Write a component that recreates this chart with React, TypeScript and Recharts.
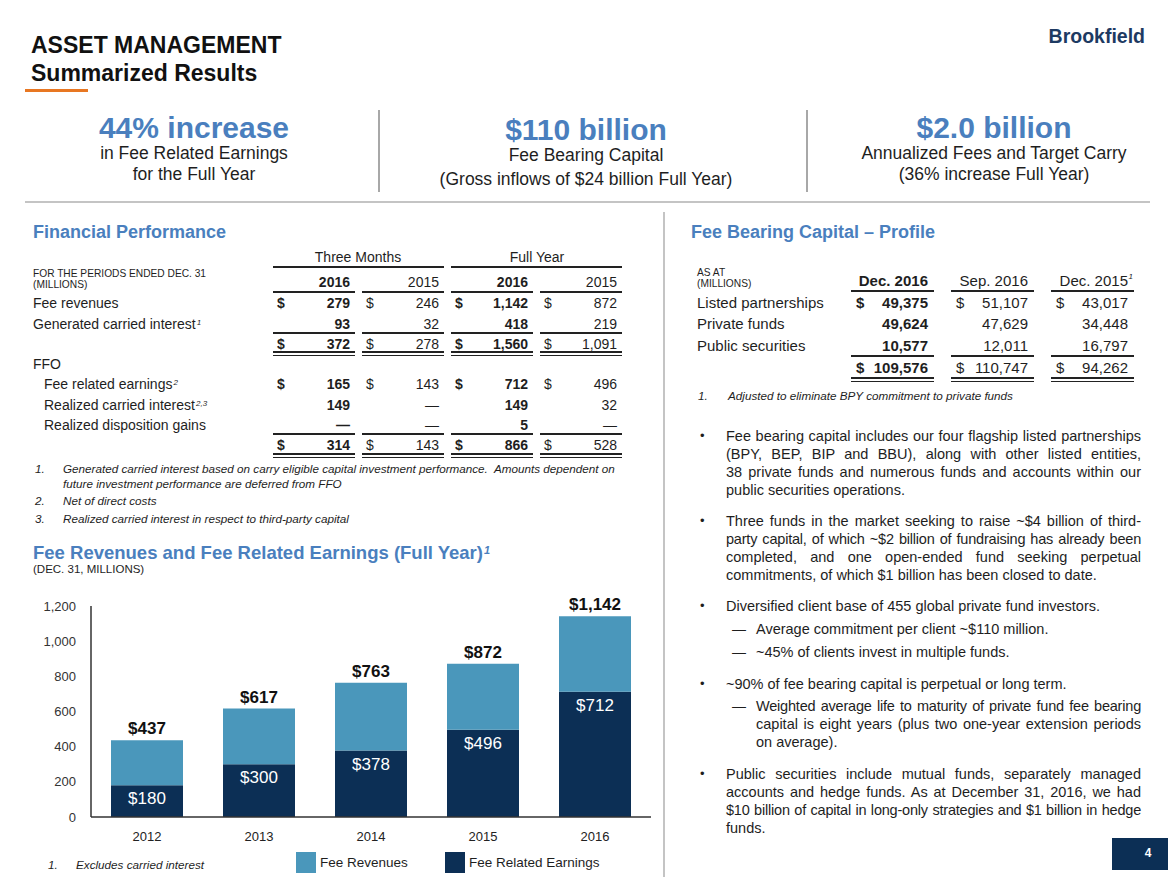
import React from 'react';
import { BarChart, Bar, XAxis, YAxis, LabelList } from 'recharts';

// chart values (DEC. 31, MILLIONS)
const years = ['2012', '2013', '2014', '2015', '2016'];
const feeRevenues = [437, 617, 763, 872, 1142];
const feeRelatedEarnings = [180, 300, 378, 496, 712];
const yTicks = [0, 200, 400, 600, 800, 1000, 1200];

// financial performance table
const fpHeaders = ['2016', '2015', '2016', '2015'];
const fpFeeRevenues = ['279', '246', '1,142', '872'];
const fpCarried = ['93', '32', '418', '219'];
const fpTotal1 = ['372', '278', '1,560', '1,091'];
const fpFre = ['165', '143', '712', '496'];
const fpRealizedCarry = ['149', '—', '149', '32'];
const fpDisposition = ['—', '—', '5', '—'];
const fpTotal2 = ['314', '143', '866', '528'];

// fee bearing capital table
const fbcHeaders = ['Dec. 2016', 'Sep. 2016', 'Dec. 2015'];
const fbcListed = ['49,375', '51,107', '43,017'];
const fbcPrivate = ['49,624', '47,629', '34,448'];
const fbcPublic = ['10,577', '12,011', '16,797'];
const fbcTotal = ['109,576', '110,747', '94,262'];

const LIGHT = '#4a97bb';
const NAVY = '#0c2f55';
const BLUE = '#4a7fbe';
const INK = '#1e1e1e';

const data = years.map((year, i) => ({
  year,
  fre: feeRelatedEarnings[i],
  rest: feeRevenues[i] - feeRelatedEarnings[i],
  revenue: feeRevenues[i],
}));

const money = (v: number) => `$${v.toLocaleString('en-US')}`;

type TxtProps = {
  x: number;
  y: number;
  w?: number;
  align?: 'left' | 'right' | 'center';
  size?: number;
  bold?: boolean;
  italic?: boolean;
  color?: string;
  children: React.ReactNode;
};

function Txt({ x, y, w = 500, align = 'left', size = 14, bold, italic, color = INK, children }: TxtProps) {
  const h = Math.round(size * 1.4);
  const left = align === 'left' ? x : align === 'right' ? x - w : x - w / 2;
  return (
    <div
      style={{
        position: 'absolute',
        left,
        top: y - h / 2,
        width: w,
        height: h,
        lineHeight: `${h}px`,
        fontSize: size,
        fontWeight: bold ? 700 : 400,
        fontStyle: italic ? 'italic' : 'normal',
        color,
        textAlign: align,
        whiteSpace: 'nowrap',
      }}
    >
      {children}
    </div>
  );
}

function HLine({ x1, x2, y, th = 1, color = '#222' }: { x1: number; x2: number; y: number; th?: number; color?: string }) {
  return <div style={{ position: 'absolute', left: x1, top: y - th / 2, width: x2 - x1, height: th, background: color }} />;
}

function VLine({ x, y1, y2, th = 2, color = '#b0b0b0' }: { x: number; y1: number; y2: number; th?: number; color?: string }) {
  return <div style={{ position: 'absolute', left: x - th / 2, top: y1, width: th, height: y2 - y1, background: color }} />;
}

const Sup = ({ children, size = 8 }: { children: React.ReactNode; size?: number }) => (
  <span
    style={{
      fontSize: size,
      position: 'relative',
      top: '-0.45em',
      lineHeight: 0,
      fontStyle: 'italic',
      marginLeft: 1,
    }}
  >
    {children}
  </span>
);

// left table columns
const fpCols = [
  [273, 355],
  [362, 444],
  [451, 533],
  [540, 622],
];
const fbcCols = [
  [851, 934],
  [951, 1034],
  [1051, 1134],
];

function FpRow({ y, vals, dollar }: { y: number; vals: string[]; dollar?: boolean }) {
  return (
    <>
      {vals.map((v, i) => (
        <React.Fragment key={i}>
          {dollar && (
            <Txt x={fpCols[i][0] + 4} y={y} w={20} bold={i % 2 === 0}>
              $
            </Txt>
          )}
          <Txt x={fpCols[i][1] - 5} y={y} w={80} align="right" bold={i % 2 === 0}>
            {v}
          </Txt>
        </React.Fragment>
      ))}
    </>
  );
}

function FpLines({ y, th = 1.5 }: { y: number; th?: number }) {
  return (
    <>
      {fpCols.map(([a, b], i) => (
        <HLine key={i} x1={a} x2={b} y={y} th={th} />
      ))}
    </>
  );
}

function FbcRow({ y, vals, dollar }: { y: number; vals: string[]; dollar?: boolean }) {
  return (
    <>
      {vals.map((v, i) => (
        <React.Fragment key={i}>
          {dollar && (
            <Txt x={fbcCols[i][0] + 5} y={y} w={20} size={15} bold={i === 0}>
              $
            </Txt>
          )}
          <Txt x={fbcCols[i][1] - 6} y={y} w={90} align="right" size={15} bold={i === 0}>
            {v}
          </Txt>
        </React.Fragment>
      ))}
    </>
  );
}

function FbcLines({ y, th = 1.5 }: { y: number; th?: number }) {
  return (
    <>
      {fbcCols.map(([a, b], i) => (
        <HLine key={i} x1={a} x2={b} y={y} th={th} />
      ))}
    </>
  );
}

// justified bullet lines; a leading '!' marks a line that needs tighter letters
function Para({ x, y, w, lines, step = 18 }: { x: number; y: number; w: number; lines: string[]; step?: number }) {
  return (
    <>
      {lines.map((raw, i) => {
        const tight = raw.startsWith('!');
        const t = tight ? raw.slice(1) : raw;
        return (
          <div
            key={i}
            style={{
              position: 'absolute',
              left: x,
              top: y + i * step - 10,
              width: w,
              height: 20,
              lineHeight: '20px',
              fontSize: 14.5,
              letterSpacing: tight ? -0.2 : 0,
              color: INK,
              whiteSpace: 'nowrap',
              textAlign: 'justify',
              textAlignLast: i < lines.length - 1 ? 'justify' : 'left',
            }}
          >
            {t}
          </div>
        );
      })}
    </>
  );
}

const Bullet = ({ y }: { y: number }) => (
  <Txt x={700} y={y} w={10} size={13}>
    •
  </Txt>
);
const Dash = ({ y }: { y: number }) => (
  <Txt x={732} y={y} w={20} size={14}>
    —
  </Txt>
);

const NOTE = 11.7;

export default function App() {
  return (
    <div
      style={{
        position: 'absolute',
        left: 0,
        top: 0,
        width: 1168,
        height: 877,
        background: '#fff',
        overflow: 'hidden',
        fontFamily: '"Liberation Sans", Arial, sans-serif',
        color: INK,
      }}
    >
      {/* header */}
      <Txt x={31} y={45} size={23} bold color="#111">
        ASSET MANAGEMENT
      </Txt>
      <Txt x={31} y={73} size={23} bold color="#111">
        Summarized Results
      </Txt>
      <HLine x1={25} x2={88} y={90} th={3} color="#e87722" />
      <Txt x={1145} y={36} w={200} align="right" size={19.5} bold color="#1d3a62">
        Brookfield
      </Txt>

      {/* KPIs */}
      <Txt x={194} y={128} w={360} align="center" size={30} bold color={BLUE}>
        44% increase
      </Txt>
      <Txt x={194} y={153} w={360} align="center" size={17.5}>
        in Fee Related Earnings
      </Txt>
      <Txt x={194} y={174} w={360} align="center" size={17.5}>
        for the Full Year
      </Txt>
      <VLine x={379} y1={110} y2={192} color="#a8a8a8" />
      <Txt x={586} y={130} w={400} align="center" size={30} bold color={BLUE}>
        $110 billion
      </Txt>
      <Txt x={586} y={155} w={400} align="center" size={17.5}>
        Fee Bearing Capital
      </Txt>
      <Txt x={586} y={179} w={400} align="center" size={17.5}>
        (Gross inflows of $24 billion Full Year)
      </Txt>
      <VLine x={807} y1={110} y2={192} color="#a8a8a8" />
      <Txt x={994} y={128} w={360} align="center" size={30} bold color={BLUE}>
        $2.0 billion
      </Txt>
      <Txt x={994} y={153} w={360} align="center" size={17.5}>
        Annualized Fees and Target Carry
      </Txt>
      <Txt x={994} y={174} w={360} align="center" size={17.5}>
        (36% increase Full Year)
      </Txt>

      <HLine x1={25} x2={1150} y={202} th={2} color="#c4c4c4" />
      <VLine x={664} y1={212} y2={877} th={2} color="#c4c4c4" />

      {/* Financial Performance */}
      <Txt x={33} y={232} size={18} bold color={BLUE}>
        Financial Performance
      </Txt>
      <Txt x={358} y={257} w={170} align="center" size={14}>
        Three Months
      </Txt>
      <HLine x1={273} x2={444} y={267} th={2} />
      <Txt x={537} y={257} w={170} align="center" size={14}>
        Full Year
      </Txt>
      <HLine x1={451} x2={622} y={267} th={2} />
      <Txt x={33} y={274} size={10.2}>
        FOR THE PERIODS ENDED DEC. 31
      </Txt>
      <Txt x={33} y={285} size={10.2}>
        (MILLIONS)
      </Txt>
      {fpHeaders.map((h, i) => (
        <Txt key={i} x={fpCols[i][1] - 5} y={282} w={80} align="right" bold={i % 2 === 0}>
          {h}
        </Txt>
      ))}
      <FpLines y={292} th={2} />

      <Txt x={33} y={303}>Fee revenues</Txt>
      <FpRow y={303} vals={fpFeeRevenues} dollar />
      <Txt x={33} y={324}>
        Generated carried interest<Sup>1</Sup>
      </Txt>
      <FpRow y={324} vals={fpCarried} />
      <FpLines y={333} />
      <FpRow y={344} vals={fpTotal1} dollar />
      <FpLines y={352} />
      <FpLines y={355.5} />

      <Txt x={33} y={364}>FFO</Txt>
      <Txt x={44} y={384}>
        Fee related earnings<Sup>2</Sup>
      </Txt>
      <FpRow y={384} vals={fpFre} dollar />
      <Txt x={44} y={405}>
        Realized carried interest<Sup>2,3</Sup>
      </Txt>
      <FpRow y={405} vals={fpRealizedCarry} />
      <Txt x={44} y={425}>Realized disposition gains</Txt>
      <FpRow y={425} vals={fpDisposition} />
      <FpLines y={434} />
      <FpRow y={445} vals={fpTotal2} dollar />
      <FpLines y={454} />
      <FpLines y={457.5} />

      <Txt x={35} y={469} size={NOTE} italic>1.</Txt>
      <Txt x={63} y={469} w={580} size={NOTE} italic>
        Generated carried interest based on carry eligible capital investment performance.&nbsp; Amounts dependent on
      </Txt>
      <Txt x={63} y={484} size={NOTE} italic>
        future investment performance are deferred from FFO
      </Txt>
      <Txt x={35} y={501} size={NOTE} italic>2.</Txt>
      <Txt x={63} y={501} size={NOTE} italic>
        Net of direct costs
      </Txt>
      <Txt x={35} y={519} size={NOTE} italic>3.</Txt>
      <Txt x={63} y={519} size={NOTE} italic>
        Realized carried interest in respect to third-party capital
      </Txt>

      {/* chart */}
      <Txt x={33} y={553} size={18.5} bold color={BLUE}>
        Fee Revenues and Fee Related Earnings (Full Year)
        <Sup size={11}>1</Sup>
      </Txt>
      <Txt x={33} y={569} size={11.5}>
        (DEC. 31, MILLIONS)
      </Txt>

      <div style={{ position: 'absolute', left: 0, top: 590 }}>
        <BarChart width={660} height={257} data={data} margin={{ top: 16, right: 9, left: 0, bottom: 0 }}>
          <XAxis
            dataKey="year"
            height={30}
            tickLine={false}
            axisLine={{ stroke: '#333', strokeWidth: 1.5 }}
            tickMargin={9}
            tick={{ fill: '#222', fontSize: 13 }}
          />
          <YAxis
            width={91}
            domain={[0, 1200]}
            ticks={yTicks}
            interval={0}
            tickLine={false}
            axisLine={{ stroke: '#333', strokeWidth: 1.5 }}
            tickMargin={9}
            tickFormatter={(v: number) => v.toLocaleString('en-US')}
            tick={{ fill: '#333', fontSize: 13 }}
          />
          <Bar dataKey="fre" stackId="a" fill={NAVY} barSize={72} isAnimationActive={false}>
            <LabelList
              dataKey="fre"
              position="insideTop"
              offset={7}
              formatter={(v: number) => money(v)}
              style={{ fill: '#fff', fontSize: 17 }}
            />
          </Bar>
          <Bar dataKey="rest" stackId="a" fill={LIGHT} barSize={72} isAnimationActive={false}>
            <LabelList
              dataKey="revenue"
              position="top"
              offset={6}
              formatter={(v: number) => money(v)}
              style={{ fill: '#111', fontSize: 17, fontWeight: 700 }}
            />
          </Bar>
        </BarChart>
      </div>

      {/* chart legend + note */}
      <Txt x={48} y={865} size={NOTE} italic>1.</Txt>
      <Txt x={76} y={865} size={NOTE} italic>
        Excludes carried interest
      </Txt>
      <div style={{ position: 'absolute', left: 296, top: 852, width: 20, height: 21, background: LIGHT }} />
      <Txt x={320} y={862} size={13.5}>
        Fee Revenues
      </Txt>
      <div style={{ position: 'absolute', left: 445, top: 852, width: 20, height: 21, background: NAVY }} />
      <Txt x={469} y={862} size={13.5}>
        Fee Related Earnings
      </Txt>

      {/* Fee Bearing Capital – Profile */}
      <Txt x={691} y={232} size={18} bold color={BLUE}>
        Fee Bearing Capital – Profile
      </Txt>
      <Txt x={697} y={273} size={10.2}>
        AS AT
      </Txt>
      <Txt x={697} y={284} size={10.2}>
        (MILLIONS)
      </Txt>
      {fbcHeaders.map((h, i) => (
        <Txt key={i} x={fbcCols[i][1] - 6} y={280} w={100} align="right" size={15} bold={i === 0}>
          {h}
          {i === 2 && <span style={{ position: 'absolute', right: -5, top: -4, fontSize: 8, fontStyle: 'italic' }}>1</span>}
        </Txt>
      ))}
      <FbcLines y={291} th={2} />
      <Txt x={697} y={302} size={15}>Listed partnerships</Txt>
      <FbcRow y={302} vals={fbcListed} dollar />
      <Txt x={697} y={323} size={15}>Private funds</Txt>
      <FbcRow y={323} vals={fbcPrivate} />
      <Txt x={697} y={345} size={15}>Public securities</Txt>
      <FbcRow y={345} vals={fbcPublic} />
      <FbcLines y={356} th={2} />
      <FbcRow y={367} vals={fbcTotal} dollar />
      <FbcLines y={378} />
      <FbcLines y={381.5} />
      <Txt x={698} y={396} size={NOTE} italic>1.</Txt>
      <Txt x={728} y={396} size={NOTE} italic>
        Adjusted to eliminate BPY commitment to private funds
      </Txt>

      {/* bullets */}
      <Bullet y={436} />
      <Para
        x={726}
        y={436}
        w={415}
        lines={[
          'Fee bearing capital includes our four flagship listed partnerships',
          '(BPY, BEP, BIP and BBU), along with other listed entities,',
          '38 private funds and numerous funds and accounts within our',
          'public securities operations.',
        ]}
      />
      <Bullet y={521} />
      <Para
        x={726}
        y={521}
        w={415}
        lines={[
          'Three funds in the market seeking to raise ~$4 billion of third-',
          '!party capital, of which ~$2 billion of fundraising has already been',
          'completed, and one open-ended fund seeking perpetual',
          'commitments, of which $1 billion has been closed to date.',
        ]}
      />
      <Bullet y={606} />
      <Para x={726} y={606} w={415} lines={['Diversified client base of 455 global private fund investors.']} />
      <Dash y={629} />
      <Para x={756} y={629} w={385} lines={['Average commitment per client ~$110 million.']} />
      <Dash y={652} />
      <Para x={756} y={652} w={385} lines={['~45% of clients invest in multiple funds.']} />
      <Bullet y={684} />
      <Para x={726} y={684} w={415} lines={['~90% of fee bearing capital is perpetual or long term.']} />
      <Dash y={706} />
      <Para
        x={756}
        y={706}
        w={385}
        lines={[
          '!Weighted average life to maturity of private fund fee bearing',
          'capital is eight years (plus two one-year extension periods',
          'on average).',
        ]}
      />
      <Bullet y={774} />
      <Para
        x={726}
        y={774}
        w={415}
        lines={[
          'Public securities include mutual funds, separately managed',
          'accounts and hedge funds. As at December 31, 2016, we had',
          '!$10 billion of capital in long-only strategies and $1 billion in hedge',
          'funds.',
        ]}
      />

      {/* page number */}
      <div style={{ position: 'absolute', left: 1112, top: 838, width: 56, height: 32, background: NAVY }} />
      <Txt x={1148} y={853} w={20} align="center" size={12} bold color="#fff">
        4
      </Txt>
    </div>
  );
}
